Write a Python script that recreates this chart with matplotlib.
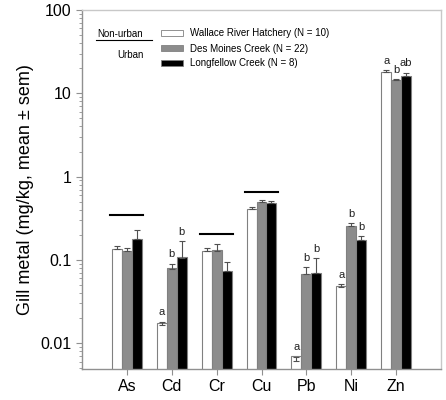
import numpy as np
import matplotlib.pyplot as plt
from matplotlib.patches import Rectangle
from matplotlib.lines import Line2D

plt.rcParams['font.family'] = ['Liberation Sans', 'DejaVu Sans']

# Data
metals = ["As", "Cd", "Cr", "Cu", "Pb", "Ni", "Zn"]
sites = ["Wallace River Hatchery (N = 10)", "Des Moines Creek (N = 22)", "Longfellow Creek (N = 8)"]
wallace = [0.135, 0.0166, 0.127, 0.408, 0.0061, 0.0477, 18.2]
wallace_sem = [0.013, 0.0016, 0.011, 0.023, 0.0008, 0.0041, 0.9]
desmoines = [0.127, 0.0786, 0.129, 0.49, 0.0672, 0.252, 14.4]
desmoines_sem = [0.011, 0.0117, 0.026, 0.028, 0.0145, 0.025, 0.5]
longfellow = [0.178, 0.106, 0.073, 0.476, 0.069, 0.174, 16.2]
longfellow_sem = [0.052, 0.062, 0.021, 0.028, 0.035, 0.021, 1.5]
# letters above bars ("" = none)
wallace_lbl = ["", "a", "", "", "a", "a", "a"]
desmoines_lbl = ["", "b", "", "", "b", "b", "b"]
longfellow_lbl = ["", "b", "", "", "b", "b", "ab"]
# no-difference bars over groups (None = no line)
group_line = [0.35, None, 0.206, 0.66, None, None, None]

fig = plt.figure(figsize=(4.46, 4.0), dpi=100)
ax = fig.add_axes([82 / 446, 1 - 369 / 400, (441 - 82) / 446, (369 - 10) / 400])

x = np.arange(len(metals))
w = 0.222
series = [
    (wallace, wallace_sem, wallace_lbl, "white"),
    (desmoines, desmoines_sem, desmoines_lbl, "#8c8c8c"),
    (longfellow, longfellow_sem, longfellow_lbl, "black"),
]
for i, (vals, sem, lbls, col) in enumerate(series):
    xi = x + (i - 1) * w
    ax.bar(xi, vals, width=w, color=col, edgecolor="#808080", linewidth=0.8, bottom=0.001, zorder=2)
    ax.errorbar(xi, vals, yerr=[np.zeros(len(vals)), sem], fmt="none",
                ecolor="#505050", elinewidth=0.8, capsize=2.5, capthick=0.8, zorder=3)
    for xx, v, s, t in zip(xi, vals, sem, lbls):
        if t:
            ax.annotate(t, (xx, v + s), xytext=(0, 3), textcoords="offset points",
                        ha="center", va="bottom", fontsize=8, color="#202020")

for xx, v in zip(x, group_line):
    if v is not None:
        ax.plot([xx - 0.37, xx + 0.37], [v, v], color="black", lw=1.5, zorder=3)

ax.set_yscale("log")
ax.set_ylim(0.0049, 100)
ax.set_xlim(-1, 7)
ax.set_xticks(x)
ax.set_xticklabels(metals, fontsize=11.5)
ax.set_yticks([0.01, 0.1, 1, 10, 100])
ax.set_yticklabels(["0.01", "0.1", "1", "10", "100"], fontsize=11.5)
ax.set_ylabel("Gill metal (mg/kg, mean \u00b1 sem)", fontsize=13, labelpad=5)
for side in ["left", "bottom"]:
    ax.spines[side].set_color("#909090")
for side in ["top", "right"]:
    ax.spines[side].set_color("#c8c8c8")
for sp in ax.spines.values():
    sp.set_linewidth(1.0)
ax.tick_params(axis="both", which="major", direction="out", length=4, color="#909090", width=0.8)
ax.tick_params(axis="y", which="minor", direction="out", length=2.5, color="#909090", width=0.6)
ax.tick_params(axis="x", which="minor", length=0)

# legend (drawn by hand in figure pixels)
def fx(px):
    return px / 446

def fy(py):
    return 1 - py / 400

fig.text(fx(97), fy(34), "Non-urban", fontsize=7, va="center", ha="left")
fig.add_artist(Line2D([fx(96), fx(152)], [fy(40), fy(40)], color="black", lw=0.8))
fig.text(fx(144), fy(55), "Urban", fontsize=7, va="center", ha="right")
patch_y = [33, 48, 63]
for (vals, sem, lbls, col), name, py in zip(series, sites, patch_y):
    fig.add_artist(Rectangle((fx(161), fy(py + 2.7)), fx(22), 5.4 / 400,
                             facecolor=col, edgecolor="#808080", lw=0.6))
    fig.text(fx(190), fy(py + 0.5), name, fontsize=7, va="center", ha="left")

fig.savefig("out.png", dpi=100)
